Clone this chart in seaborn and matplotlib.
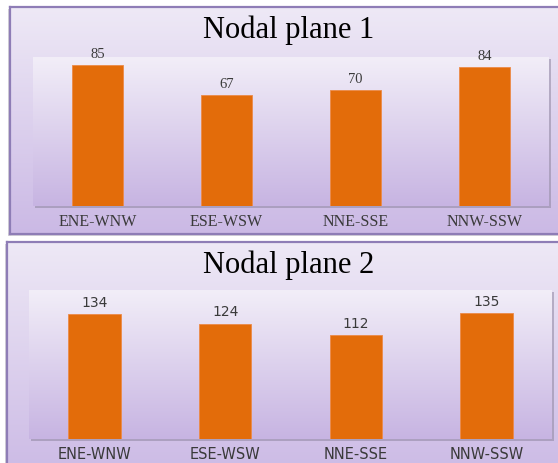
import numpy as np
import pandas as pd
import matplotlib
matplotlib.use("Agg")
import matplotlib.pyplot as plt
from matplotlib.colors import LinearSegmentedColormap
from matplotlib.patches import Rectangle
import seaborn as sns

# Fault-plane strike directions and number of solutions per nodal plane
directions = ["ENE-WNW", "ESE-WSW", "NNE-SSE", "NNW-SSW"]
plane1_counts = [85, 67, 70, 84]
plane2_counts = [134, 124, 112, 135]
titles = ["Nodal plane 1", "Nodal plane 2"]

BAR = "#E36C0A"
W, H = 558, 463

sns.set_theme(style="white")
fig = plt.figure(figsize=(W / 100, H / 100), dpi=100)
fig.patch.set_facecolor("white")


def box(x0, y0, x1, y1):
    """Pixel box (top-left origin) -> figure fraction [l, b, w, h]."""
    return [x0 / W, 1 - y1 / H, (x1 - x0) / W, (y1 - y0) / H]


panel_cmap = LinearSegmentedColormap.from_list("panel", ["#EEE9F6", "#CBB9E5"])
plot_cmap = LinearSegmentedColormap.from_list("plotarea", ["#F2EEF8", "#C7B4E2"])
grad = np.linspace(0, 1, 256).reshape(-1, 1)


def gradient_axes(b, cmap, z, edge=None, lw=0):
    a = fig.add_axes(b, zorder=z)
    a.imshow(grad, cmap=cmap, aspect="auto", extent=[0, 1, 0, 1],
             origin="upper", interpolation="bilinear")
    a.set_xticks([])
    a.set_yticks([])
    for s in a.spines.values():
        if edge is None:
            s.set_visible(False)
        else:
            s.set_color(edge)
            s.set_linewidth(lw)
    return a


def shadow(b, z, dx=2, dy=2, color="#8F86A0", alpha=0.55):
    l, bt, w, h = b
    fig.add_artist(Rectangle((l + dx / W, bt - dy / H), w, h,
                             transform=fig.transFigure, facecolor=color,
                             edgecolor="none", alpha=alpha, zorder=z))


def panel(outer, inner, values, ymax, title, title_y, serif, label_size,
          value_size, value_pad):
    shadow(box(*outer), 0.2, dx=-2, dy=2, color="#B8B4BE", alpha=0.6)
    gradient_axes(box(*outer), panel_cmap, 0.5, edge="#8E7DB6", lw=1.6)
    ib = box(*inner)
    shadow(ib, 0.8)
    gradient_axes(ib, plot_cmap, 1)

    ax = fig.add_axes(ib, zorder=2)
    ax.patch.set_alpha(0)
    df = pd.DataFrame({"direction": directions, "count": values})
    sns.barplot(data=df, x="direction", y="count", color=BAR, saturation=1,
                width=0.4, edgecolor="#EC8A48", linewidth=0.6, ax=ax)
    ax.set_xlim(-0.5, len(directions) - 0.5)
    ax.set_ylim(0, ymax)
    ax.set_yticks([])
    ax.set_xlabel("")
    ax.set_ylabel("")
    sns.despine(ax=ax, left=True, bottom=True)

    fam = ["Liberation Serif"] if serif else ["DejaVu Sans"]
    ax.tick_params(axis="x", length=0, pad=6, colors="#3A3A3A")
    for t in ax.get_xticklabels():
        t.set_fontfamily(fam)
        t.set_fontsize(label_size)
    ax.bar_label(ax.containers[0], labels=[str(v) for v in values],
                 padding=value_pad, fontsize=value_size, fontfamily=fam,
                 color="#3A3A3A")

    fig.text(0.517, title_y, title, ha="center", va="center",
             fontfamily=["Liberation Serif"], fontsize=22, color="black",
             zorder=3)


panel((10, 7, 575, 234), (33, 57, 549, 206), plane1_counts, 90, titles[0],
      1 - 30 / H, True, 11.5, 10.5, 3)
panel((7, 242, 575, 480), (29, 290, 552, 439), plane2_counts, 160, titles[1],
      1 - 265 / H, False, 10.5, 10, 3)

fig.savefig("out.png", dpi=100, facecolor="white")
